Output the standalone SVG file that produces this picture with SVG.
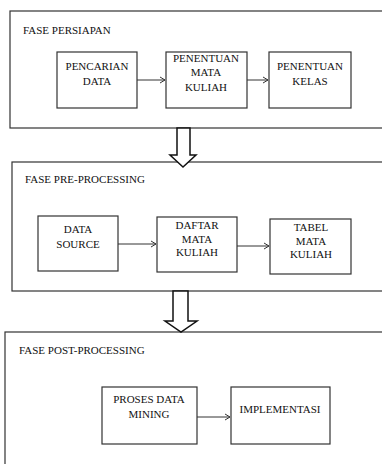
<svg xmlns="http://www.w3.org/2000/svg" width="382" height="464" viewBox="0 0 382 464">
<style>
.frame{fill:#fff;stroke:#333;stroke-width:1.2}
.box{fill:#fff;stroke:#333;stroke-width:1.2}
.t{font-family:"Liberation Serif","Times New Roman",serif;font-size:11px;fill:#111;text-anchor:middle}
.h{font-family:"Liberation Serif","Times New Roman",serif;font-size:11px;fill:#111}
.c{stroke:#333;stroke-width:1;fill:none}
.blk{fill:#fff;stroke:#111;stroke-width:1.5;stroke-linejoin:miter}
</style>
<defs>
<marker id="ah" markerWidth="8" markerHeight="8" refX="7" refY="4" orient="auto" markerUnits="userSpaceOnUse">
<path d="M2,1 L7,4 L2,7" fill="none" stroke="#333" stroke-width="1"/>
</marker>
</defs>
<rect width="382" height="464" fill="#fff"/>

<g id="fase-persiapan">
<rect class="frame" x="10" y="11" width="380" height="117"/>
<text class="h" x="23" y="34">FASE PERSIAPAN</text>
</g>
<g id="pencarian-data">
<rect class="box" x="57" y="52" width="80" height="56"/>
<text class="t" x="97" y="70">PENCARIAN</text>
<text class="t" x="97" y="85">DATA</text>
</g>
<g id="penentuan-mata-kuliah">
<rect class="box" x="166" y="52" width="81" height="56"/>
<text class="t" x="206" y="62">PENENTUAN</text>
<text class="t" x="206" y="76">MATA</text>
<text class="t" x="206" y="91">KULIAH</text>
</g>
<g id="penentuan-kelas">
<rect class="box" x="269" y="52" width="82" height="56"/>
<text class="t" x="310" y="70">PENENTUAN</text>
<text class="t" x="310" y="85">KELAS</text>
</g>

<g id="fase-pre-processing">
<rect class="frame" x="12" y="162" width="378" height="129"/>
<text class="h" x="25" y="183">FASE PRE-PROCESSING</text>
</g>
<g id="data-source">
<rect class="box" x="38" y="216" width="80" height="55"/>
<text class="t" x="78" y="233">DATA</text>
<text class="t" x="78" y="248">SOURCE</text>
</g>
<g id="daftar-mata-kuliah">
<rect class="box" x="157" y="217" width="80" height="55"/>
<text class="t" x="197" y="229">DAFTAR</text>
<text class="t" x="197" y="243">MATA</text>
<text class="t" x="197" y="256">KULIAH</text>
</g>
<g id="tabel-mata-kuliah">
<rect class="box" x="270" y="219" width="81" height="55"/>
<text class="t" x="311" y="231">TABEL</text>
<text class="t" x="311" y="245">MATA</text>
<text class="t" x="311" y="258">KULIAH</text>
</g>

<g id="fase-post-processing">
<rect class="frame" x="5" y="332" width="385" height="140"/>
<text class="h" x="19" y="354">FASE POST-PROCESSING</text>
</g>
<g id="proses-data-mining">
<rect class="box" x="102" y="387" width="95" height="57"/>
<text class="t" x="149" y="403">PROSES DATA</text>
<text class="t" x="149" y="418">MINING</text>
</g>
<g id="implementasi">
<rect class="box" x="231" y="387" width="99" height="57"/>
<text class="t" x="280" y="413">IMPLEMENTASI</text>
</g>

<g id="connectors">
<line class="c" x1="137" y1="80" x2="165" y2="80" marker-end="url(#ah)"/>
<line class="c" x1="247" y1="80" x2="268" y2="80" marker-end="url(#ah)"/>
<line class="c" x1="118" y1="244" x2="156" y2="244" marker-end="url(#ah)"/>
<line class="c" x1="237" y1="246" x2="269" y2="246" marker-end="url(#ah)"/>
<line class="c" x1="197" y1="417" x2="230" y2="417" marker-end="url(#ah)"/>
<path class="blk" d="M177,128 L190,128 L190,155 L196,155 L183,167 L170,155 L177,155 Z"/>
<path class="blk" d="M173,291 L188,291 L188,321 L197,321 L181,332 L165,321 L173,321 Z"/>
</g>
</svg>
